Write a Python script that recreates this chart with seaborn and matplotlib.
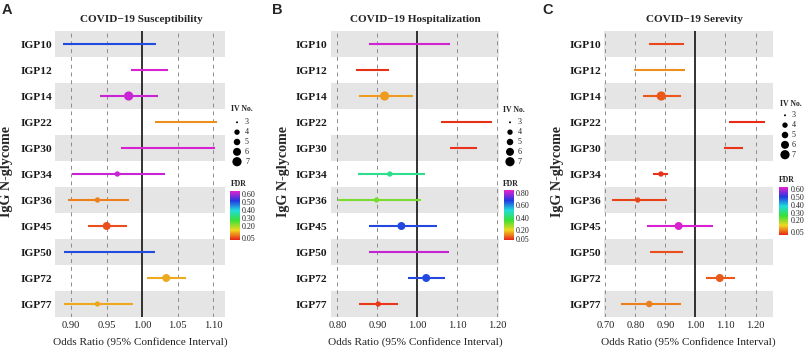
import numpy as np
import pandas as pd
import matplotlib
matplotlib.use("Agg")
import matplotlib.pyplot as plt
from matplotlib.colors import LinearSegmentedColormap, Normalize
from matplotlib.cm import ScalarMappable
import seaborn as sns

# ---- data -------------------------------------------------------------
glycomes = ["IGP10", "IGP12", "IGP14", "IGP22", "IGP30", "IGP34",
            "IGP36", "IGP45", "IGP50", "IGP72", "IGP77"]

# COVID-19 susceptibility
or_sus = [0.951, 1.010, 0.981, 1.062, 1.034, 0.965, 0.937, 0.950, 0.951, 1.034, 0.937]
lo_sus = [0.888, 0.985, 0.941, 1.018, 0.970, 0.901, 0.895, 0.923, 0.890, 1.007, 0.890]
hi_sus = [1.019, 1.036, 1.022, 1.106, 1.103, 1.032, 0.981, 0.979, 1.018, 1.062, 0.987]
fdr_sus = [0.50, 0.63, 0.62, 0.094, 0.63, 0.62, 0.083, 0.05, 0.50, 0.113, 0.11]
iv_sus = [3, 3, 7, 3, 3, 4, 4, 6, 3, 6, 4]

# COVID-19 hospitalization
or_hosp = [0.973, 0.885, 0.918, 1.121, 1.113, 0.931, 0.898, 0.960, 0.973, 1.022, 0.902]
lo_hosp = [0.878, 0.846, 0.853, 1.058, 1.081, 0.852, 0.802, 0.879, 0.879, 0.977, 0.854]
hi_hosp = [1.081, 0.928, 0.988, 1.186, 1.149, 1.018, 1.008, 1.048, 1.078, 1.068, 0.952]
fdr_hosp = [0.83, 0.04, 0.14, 0.04, 0.045, 0.44, 0.30, 0.67, 0.82, 0.67, 0.05]
iv_hosp = [3, 3, 7, 3, 3, 4, 4, 6, 3, 6, 4]

# COVID-19 severity
or_sev = [0.901, 0.875, 0.886, 1.169, 1.126, 0.885, 0.808, 0.944, 0.902, 1.081, 0.846]
lo_sev = [0.846, 0.795, 0.824, 1.113, 1.095, 0.860, 0.721, 0.838, 0.849, 1.034, 0.753]
hi_sev = [0.962, 0.964, 0.953, 1.231, 1.157, 0.909, 0.904, 1.060, 0.960, 1.132, 0.951]
fdr_sev = [0.036, 0.084, 0.047, 0.015, 0.02, 0.02, 0.032, 0.62, 0.04, 0.047, 0.073]
iv_sev = [3, 3, 7, 3, 3, 4, 4, 6, 3, 6, 5]

titles = ["COVID\u221219 Susceptibility", "COVID\u221219 Hospitalization",
          "COVID\u221219 Serevity"]
letters = ["A", "B", "C"]
x_ticks = [[0.90, 0.95, 1.00, 1.05, 1.10],
           [0.80, 0.90, 1.00, 1.10, 1.20],
           [0.70, 0.80, 0.90, 1.00, 1.10, 1.20]]
fdr_ticks = [[0.05, 0.20, 0.30, 0.40, 0.50, 0.60],
             [0.05, 0.20, 0.40, 0.60, 0.80],
             [0.05, 0.20, 0.30, 0.40, 0.50, 0.60]]
fdr_limits = [(0.02, 0.64), (0.03, 0.85), (0.01, 0.63)]
iv_levels = [3, 4, 5, 6, 7]

# ---- style ------------------------------------------------------------
sns.set_theme(style="white")
plt.rcParams["font.family"] = ["Liberation Serif", "DejaVu Serif"]
SERIF = ["Liberation Serif", "DejaVu Serif"]

W, H = 807, 348
fig = plt.figure(figsize=(W / 100, H / 100), dpi=100)
fig.patch.set_facecolor("white")


def box(x0, y0, x1, y1):
    """Pixel box (top-left origin) -> figure fraction rect."""
    return [x0 / W, 1 - y1 / H, (x1 - x0) / W, (y1 - y0) / H]


def fxy(x, y):
    return x / W, 1 - y / H


rainbow = LinearSegmentedColormap.from_list(
    "fdr", ["#E82418", "#F0D820", "#38E038", "#22DCDC",
            "#2238E0", "#E820D0"])

# marker areas (pt^2) for each IV count
size_map = {3: 2.0, 4: 15.0, 5: 22.0, 6: 33.0, 7: 44.0}

panels = [
    dict(or_=or_sus, lo=lo_sus, hi=hi_sus, fdr=fdr_sus, iv=iv_sus,
         ax=(55, 31, 225, 317), title_x=141, ylab_x=7, letter_x=2,
         leg=dict(tx=231, ty=109, dx=237, lx=245, y0=122.3,
                  ftx=231, fty=184, cb=(230, 190.7, 240, 240))),
    dict(or_=or_hosp, lo=lo_hosp, hi=hi_hosp, fdr=fdr_hosp, iv=iv_hosp,
         ax=(330.5, 31, 499.5, 317), title_x=415, ylab_x=284, letter_x=272,
         leg=dict(tx=503, ty=110, dx=510, lx=518, y0=122.3,
                  ftx=503, fty=184, cb=(504, 190.3, 514, 240))),
    dict(or_=or_sev, lo=lo_sev, hi=hi_sev, fdr=fdr_sev, iv=iv_sev,
         ax=(604, 31, 772.5, 317), title_x=694, ylab_x=558, letter_x=542,
         leg=dict(tx=779.5, ty=103.5, dx=785, lx=792, y0=115.3,
                  ftx=779, fty=180, cb=(779, 187, 788.5, 235))),
]

n = len(glycomes)
ypos = np.arange(n)

for i, p in enumerate(panels):
    norm = Normalize(*fdr_limits[i])
    df = pd.DataFrame({"glycome": glycomes, "pos": ypos, "OR": p["or_"],
                       "lo": p["lo"], "hi": p["hi"], "FDR": p["fdr"],
                       "IV": p["iv"]})

    ax = fig.add_axes(box(*p["ax"]))
    ax.set_facecolor("white")

    # alternating grey bands
    for k in range(0, n, 2):
        ax.axhspan(k - 0.5, k + 0.5, color="#E5E5E5", lw=0, zorder=0)

    lo_all, hi_all = min(p["lo"]), max(p["hi"])
    pad = 0.05 * (hi_all - lo_all)
    ax.set_xlim(lo_all - pad, hi_all + pad)
    ax.set_ylim(n - 0.5, -0.5)

    for t in x_ticks[i]:
        if abs(t - 1.0) > 1e-9:
            ax.axvline(t, color="#8C8C8C", lw=0.7, ls=(0, (4, 4)), zorder=1)
    ax.axvline(1.0, color="#111111", lw=1.2, zorder=2)

    # confidence intervals
    ax.hlines(df["pos"], df["lo"], df["hi"],
              colors=[rainbow(norm(v)) for v in df["FDR"]],
              lw=1.5, zorder=3)

    # point estimates
    sns.scatterplot(data=df, x="OR", y="pos", hue="FDR", palette=rainbow,
                    hue_norm=norm, size="IV", sizes=size_map,
                    linewidth=0, legend=False, ax=ax, zorder=4)

    ax.set_xticks(x_ticks[i])
    ax.set_xticklabels([f"{t:.2f}" for t in x_ticks[i]], fontsize=7.6,
                       family=SERIF, color="#222222")
    ax.set_yticks(ypos)
    ax.set_yticklabels(glycomes, fontsize=8.2, fontweight="bold",
                       family=SERIF, color="#1a1a1a")
    ax.tick_params(axis="both", length=0)
    ax.tick_params(axis="x", pad=3)
    ax.tick_params(axis="y", pad=2.2)
    for s in ax.spines.values():
        s.set_visible(False)
    ax.set_xlabel("")
    ax.set_ylabel("")

    # texts around the panel
    fig.text(*fxy((p["ax"][0] + p["ax"][2]) / 2, 342),
             "Odds Ratio (95% Confidence Interval)", ha="center", va="center",
             fontsize=8.1, family=SERIF, color="#222222")
    fig.text(*fxy(p["title_x"], 20), titles[i], ha="center", va="center",
             fontsize=8.1, fontweight="bold", family=SERIF)
    fig.text(*fxy(p["ylab_x"], 172), "IgG N-glycome", rotation=90,
             ha="center", va="center", fontsize=10.2, fontweight="bold",
             family=SERIF)
    fig.text(*fxy(p["letter_x"], 3), letters[i], ha="left", va="top",
             fontsize=10.5, fontweight="bold",
             family=["Liberation Sans", "DejaVu Sans"])

    # IV No. size legend
    lg = p["leg"]
    fig.text(*fxy(lg["tx"], lg["ty"]), "IV No.", ha="left", va="center",
             fontsize=5.6, fontweight="bold", family=SERIF)
    lax = fig.add_axes([0, 0, 1, 1], facecolor="none")
    lax.set_xlim(0, W)
    lax.set_ylim(H, 0)
    lax.axis("off")
    leg_df = pd.DataFrame({"x": [lg["dx"]] * len(iv_levels),
                           "y": [lg["y0"] + 9.85 * k for k in range(len(iv_levels))],
                           "IV": iv_levels})
    sns.scatterplot(data=leg_df, x="x", y="y", size="IV", sizes=size_map,
                    color="black", linewidth=0, legend=False, ax=lax)
    for k, v in enumerate(iv_levels):
        lax.text(lg["lx"], lg["y0"] + 9.85 * k, str(v), ha="left",
                 va="center", fontsize=5.8, family=SERIF, color="#222222")

    # FDR colour bar
    fig.text(*fxy(lg["ftx"], lg["fty"]), "FDR", ha="left", va="center",
             fontsize=5.6, fontweight="bold", family=SERIF)
    cax = fig.add_axes(box(*lg["cb"]))
    sm = ScalarMappable(norm=norm, cmap=rainbow)
    cb = fig.colorbar(sm, cax=cax, ticks=fdr_ticks[i])
    cb.outline.set_visible(False)
    cb.ax.set_yticklabels([f"{t:.2f}" for t in fdr_ticks[i]],
                          fontsize=5.8, family=SERIF, color="#222222")
    cb.ax.tick_params(length=2, width=0.5, color="white", pad=1.5,
                      direction="in")

fig.savefig("out.png", dpi=100, facecolor="white")
